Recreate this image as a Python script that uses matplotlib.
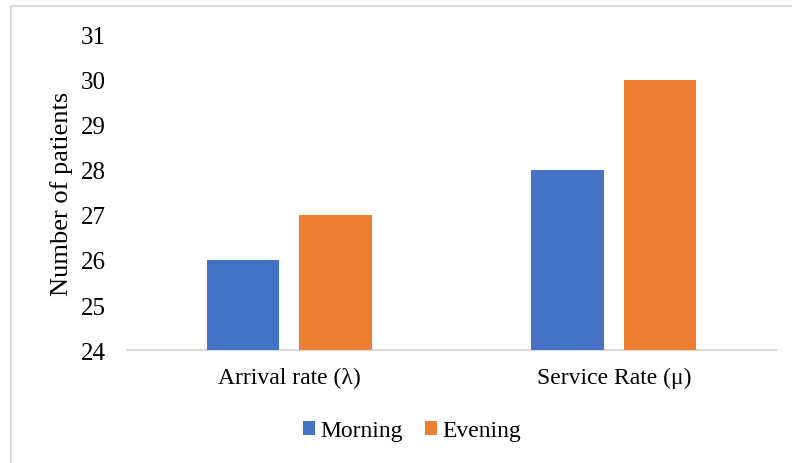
import matplotlib.pyplot as plt
import numpy as np
from matplotlib.patches import Rectangle

# datos
categories = ['Arrival rate (λ)', 'Service Rate (μ)']
series_names = ['Morning', 'Evening']
morning = [26, 28]
evening = [27, 30]
colors = ['#4472C4', '#ED7D31']

plt.rcParams['font.family'] = ['Liberation Serif', 'DejaVu Serif']

fig = plt.figure(figsize=(7.92, 4.64), dpi=100)
ax = fig.add_axes([0.1604, 0.2435, 0.8194, 0.679])

x = np.arange(len(categories))
w = 0.223
off = 0.1425
ax.bar(x - off, morning, w, color=colors[0], label=series_names[0], zorder=3)
ax.bar(x + off, evening, w, color=colors[1], label=series_names[1], zorder=3)

ax.set_xlim(-0.5, 1.5)
ax.set_ylim(24, 31)
ax.set_yticks(range(24, 32))
ax.set_xticks(x)
ax.set_xticklabels(categories, fontsize=17)
ax.tick_params(axis='y', labelsize=18, length=0, pad=15)
ax.tick_params(axis='x', length=0, pad=12)
for s in ['top', 'right', 'left']:
    ax.spines[s].set_visible(False)
ax.spines['bottom'].set_color('#d9d9d9')
ax.spines['bottom'].set_linewidth(1.5)
ax.set_ylabel('Number of patients', fontsize=19, labelpad=6)

fig.legend(loc='center', bbox_to_anchor=(412 / 792, 1 - 432 / 464), ncol=2, frameon=False,
           fontsize=17, handlelength=0.52, handleheight=0.52, handletextpad=0.22,
           columnspacing=0.95)

# marco exterior
fig.patches.append(Rectangle((11 / 792, -0.1), 1.2, 1 - 7 / 464 + 0.1, transform=fig.transFigure,
                             fill=False, edgecolor='#d9d9d9', linewidth=1.5))

fig.savefig('out.png', dpi=100)
